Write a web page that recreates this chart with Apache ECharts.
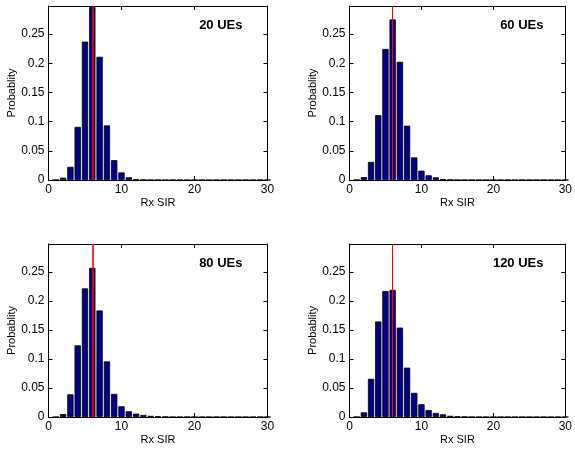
<!DOCTYPE html>
<html>
<head>
<meta charset="utf-8">
<script src="https://cdn.jsdelivr.net/npm/echarts@6/dist/echarts.min.js"></script>
<style>
html, body { margin: 0; padding: 0; background: #fff; }
#chart { width: 575px; height: 449px; }
</style>
</head>
<body>
<div id="chart"></div>
<script>
// histogram bin centres (Rx SIR)
var sirBins = [];
for (var b = 1; b <= 30; b++) sirBins.push(b);

var panelLabels = ['20 UEs', '60 UEs', '80 UEs', '120 UEs'];

// probabilities, bins 1..16 (rest are zero)
var prob20 = [0, 0.004, 0.0225, 0.091, 0.237, 0.296, 0.211, 0.0935, 0.034, 0.013, 0.0046, 0.001, 0.0003, 0, 0, 0];
var prob60 = [0, 0.005, 0.031, 0.111, 0.2245, 0.275, 0.2025, 0.093, 0.0387, 0.016, 0.008, 0.0045, 0.0015, 0.0005, 0, 0];
var prob80 = [0, 0.005, 0.039, 0.1235, 0.2215, 0.257, 0.1835, 0.0958, 0.0398, 0.0185, 0.0098, 0.0058, 0.0035, 0.002, 0.001, 0.0005];
var prob120 = [0, 0.008, 0.0658, 0.1645, 0.217, 0.219, 0.154, 0.085, 0.0416, 0.022, 0.012, 0.007, 0.0046, 0.002, 0.001, 0.0005];

var meanSir = [6, 6, 6, 6];

var allProb = [prob20, prob60, prob80, prob120];

var gridPos = [
    { left: 48.5, top: 6, width: 219, height: 174 },
    { left: 349.5, top: 6, width: 219, height: 174 },
    { left: 48.5, top: 244, width: 219, height: 173 },
    { left: 349.5, top: 244, width: 219, height: 173 }
];

var fontFamily = 'Liberation Sans, Arial, Helvetica, sans-serif';

var chart = echarts.init(document.getElementById('chart'));

var grids = [], xAxes = [], yAxes = [], series = [], titles = [];

gridPos.forEach(function (g, i) {
    grids.push(g);
    var axisLine = { show: true, onZero: false, lineStyle: { color: '#000', width: 1 } };
    var tick = { show: true, inside: true, length: 4, lineStyle: { color: '#000' } };
    xAxes.push({
        type: 'value', gridIndex: i, min: 0, max: 30, interval: 10,
        name: 'Rx SIR', nameLocation: 'middle', nameGap: 17,
        nameTextStyle: { fontSize: 11, color: '#000', fontFamily: fontFamily },
        axisLine: axisLine, axisTick: tick, splitLine: { show: false },
        axisLabel: { fontSize: 12, color: '#000', margin: 4, fontFamily: fontFamily }
    });
    xAxes.push({
        type: 'value', gridIndex: i, min: 0, max: 30, interval: 10, position: 'top',
        axisLine: axisLine, axisTick: tick, splitLine: { show: false },
        axisLabel: { show: false }
    });
    yAxes.push({
        type: 'value', gridIndex: i, min: 0, max: 0.298, interval: 0.05,
        name: 'Probablity', nameLocation: 'middle', nameGap: 31,
        nameTextStyle: { fontSize: 11, color: '#000', fontFamily: fontFamily },
        axisLine: axisLine, axisTick: tick, splitLine: { show: false },
        axisLabel: { fontSize: 12, color: '#000', margin: 4, showMaxLabel: false, fontFamily: fontFamily }
    });
    yAxes.push({
        type: 'value', gridIndex: i, min: 0, max: 0.298, interval: 0.05, position: 'right',
        axisLine: axisLine, axisTick: tick, splitLine: { show: false },
        axisLabel: { show: false }
    });

    var data = sirBins.map(function (x, k) {
        return [x, k < allProb[i].length ? allProb[i][k] : 0];
    });
    series.push({
        type: 'bar',
        xAxisIndex: i * 2, yAxisIndex: i * 2,
        data: data,
        barWidth: 6.3,
        itemStyle: { color: '#000088', borderColor: '#000', borderWidth: 0.8 },
        silent: true,
        markLine: {
            silent: true, symbol: 'none', label: { show: false },
            lineStyle: { color: '#ff0000', type: 'solid', width: i % 2 === 0 ? 1.6 : 1 },
            data: [{ xAxis: meanSir[i] }]
        }
    });

    titles.push({
        text: panelLabels[i],
        left: g.left + g.width - 30, top: g.top + 8,
        textAlign: 'right',
        textStyle: { fontSize: 13, fontWeight: 'bold', color: '#000', fontFamily: fontFamily }
    });
});

chart.setOption({
    animation: false,
    backgroundColor: '#fff',
    title: titles,
    grid: grids,
    xAxis: xAxes,
    yAxis: yAxes,
    series: series
});
</script>
</body>
</html>
